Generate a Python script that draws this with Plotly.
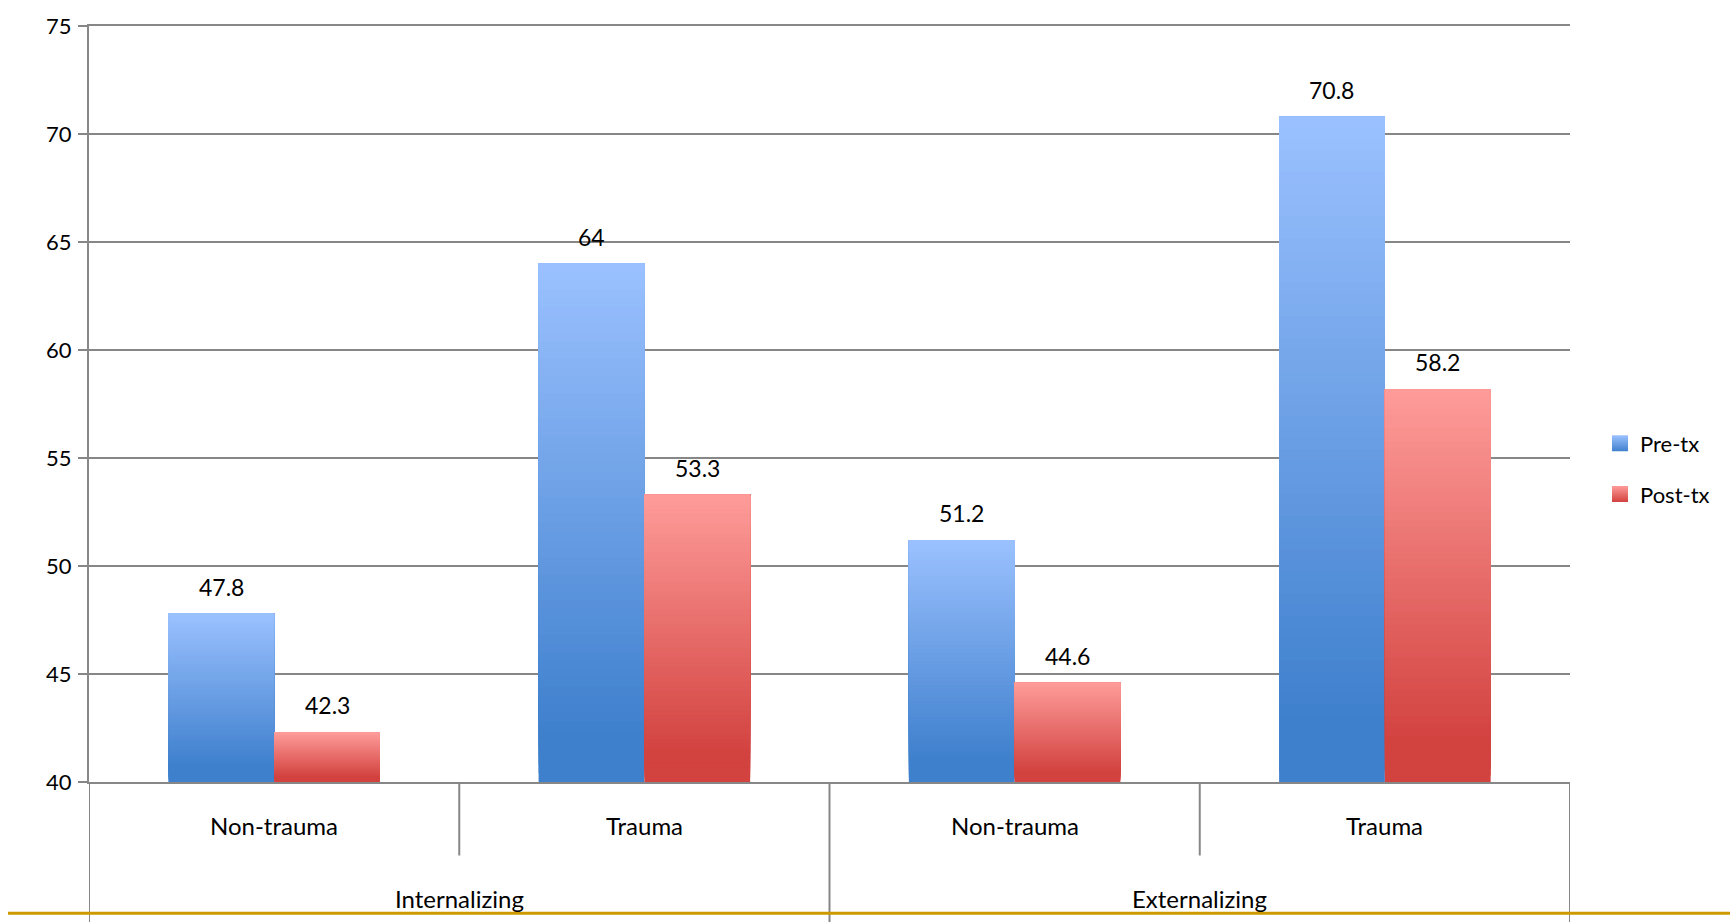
import plotly.graph_objects as go

# ---- data ----
groups = ["Internalizing", "Externalizing"]
subgroups = ["Non-trauma", "Trauma"]
series_names = ["Pre-tx", "Post-tx"]
pre_tx = [47.8, 64, 51.2, 70.8]
post_tx = [42.3, 53.3, 44.6, 58.2]
y_ticks = [40, 45, 50, 55, 60, 65, 70, 75]
y_tick_labels = [str(v) for v in y_ticks]

# ---- style ----
FONT = "Lato"
GRID = "#878787"
GOLD = "#CC9900"
TOP_COLORS = [(155, 193, 255), (254, 156, 154)]
BOTTOM_COLORS = [(63, 128, 205), (210, 66, 63)]
GAP_RATIO = 1.5 / 3.5          # gap = 150% of one bar width
N_SEG = 60                     # vertical slices used to shade each bar

W, H = 1730, 923
M_L, M_R, M_T, M_B = 89, 160, 21, 141
plot_h = H - M_T - M_B
plot_w = W - M_L - M_R

categories = [f"{g}: {s}" for g in groups for s in subgroups]
series_values = [pre_tx, post_tx]
y_min = y_ticks[0]


def rgb(c):
    return f"rgb({c[0]},{c[1]},{c[2]})"


def mix(c_a, c_b, t):
    return rgb([round(a + (b - a) * t) for a, b in zip(c_a, c_b)])


fig = go.Figure()

# gradient-filled bars: each slice runs from its own start up to the bar top,
# drawn bottom-first so the next slice covers the rest without seams
for j, (name, values) in enumerate(zip(series_names, series_values)):
    for k in range(N_SEG):
        pos = (k + 0.5) / N_SEG                     # 0 = bar bottom, 1 = bar top
        t = min(max((pos - 0.1) / 0.9, 0.0), 1.0)
        color = mix(BOTTOM_COLORS[j], TOP_COLORS[j], t)
        starts = [y_min + k * (v - y_min) / N_SEG for v in values]
        fig.add_trace(go.Bar(
            x=categories,
            y=[v - s for v, s in zip(values, starts)],
            base=starts,
            offsetgroup=name,
            marker=dict(color=color, line=dict(width=0)),
            showlegend=False,
            hoverinfo="skip",
        ))

# legend entries with gradient swatches
for j, name in enumerate(series_names):
    fig.add_trace(go.Scatter(
        x=[None], y=[None], mode="markers", name=name, legendgroup=name,
        marker=dict(symbol="square", size=17,
                    color=rgb(TOP_COLORS[j]),
                    gradient=dict(type="vertical", color=rgb(BOTTOM_COLORS[j])),
                    line=dict(width=0)),
    ))

annotations = []
# value labels above each bar
half = (1 - GAP_RATIO) / 2
for j, values in enumerate(series_values):
    off = (j - 0.5) * half
    for i, v in enumerate(values):
        annotations.append(dict(
            x=i + off, y=v, xref="x", yref="y", text=f"{v:g}",
            showarrow=False, yshift=27, yanchor="middle",
            font=dict(family=FONT, size=23, color="black"),
        ))

# two-level category labels
for i, cat in enumerate(categories):
    annotations.append(dict(
        x=i, y=-44 / plot_h, xref="x", yref="paper",
        text=subgroups[i % len(subgroups)], showarrow=False, yanchor="middle",
        font=dict(family=FONT, size=24, color="black"),
    ))
for gi, g in enumerate(groups):
    centre = gi * len(subgroups) + (len(subgroups) - 1) / 2
    annotations.append(dict(
        x=centre, y=-117 / plot_h, xref="x", yref="paper",
        text=g, showarrow=False, yanchor="middle",
        font=dict(family=FONT, size=24, color="black"),
    ))

shapes = []
# dividers in the category label area
for i in range(len(categories) + 1):
    long_line = i % len(subgroups) == 0
    shapes.append(dict(
        type="line", xref="x", yref="paper",
        x0=i - 0.5, x1=i - 0.5, y0=0,
        y1=-(M_B / plot_h) if long_line else -(74 / plot_h),
        line=dict(color=GRID, width=2),
    ))
# gold rule along the bottom
shapes.append(dict(
    type="line", xref="paper", yref="paper",
    x0=-81 / plot_w, x1=(W - M_L) / plot_w,
    y0=-132 / plot_h, y1=-132 / plot_h,
    line=dict(color=GOLD, width=3),
))

fig.update_layout(
    width=W, height=H, autosize=False,
    margin=dict(l=M_L, r=M_R, t=M_T, b=M_B, pad=0),
    paper_bgcolor="white", plot_bgcolor="white",
    barmode="group", bargap=GAP_RATIO, bargroupgap=0,
    font=dict(family=FONT, size=22, color="black"),
    showlegend=True,
    legend=dict(
        x=(1600 - M_L) / plot_w, xanchor="left",
        y=(782 - 467) / plot_h, yanchor="middle",
        font=dict(family=FONT, size=22, color="black"),
        tracegroupgap=19, itemsizing="trace",
        bgcolor="rgba(0,0,0,0)",
    ),
    annotations=annotations,
    shapes=shapes,
    xaxis=dict(
        type="category", categoryorder="array", categoryarray=categories,
        range=[-0.5, len(categories) - 0.5],
        showticklabels=False, ticks="", showgrid=False, zeroline=False,
        showline=True, mirror=True, linecolor=GRID, linewidth=2,
    ),
    yaxis=dict(
        range=[y_ticks[0], y_ticks[-1]],
        tickmode="array", tickvals=y_ticks, ticktext=y_tick_labels,
        showgrid=True, gridcolor=GRID, gridwidth=2,
        ticks="outside", ticklen=9, tickcolor=GRID, tickwidth=2,
        showline=True, linecolor=GRID, linewidth=2, zeroline=False,
        ticklabelstandoff=2,
        tickfont=dict(family=FONT, size=22, color="black"),
    ),
)

fig.write_html("out.html")
